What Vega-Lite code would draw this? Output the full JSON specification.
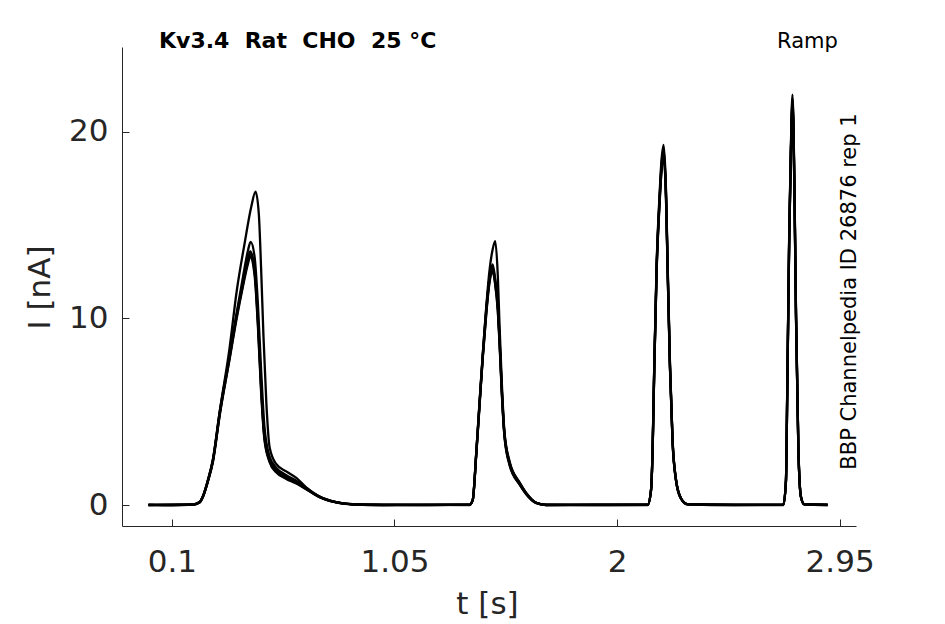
{
  "$schema": "https://vega.github.io/schema/vega-lite/v6.json",
  "autosize": {"type": "none"},
  "padding": {"left": 122, "top": 47, "right": 89, "bottom": 98},
  "width": 734,
  "height": 479,
  "background": "white",
  "config": {"view": {"stroke": null}},
  "title": {
    "text": "Kv3.4\u00a0\u00a0Rat\u00a0\u00a0CHO\u00a0\u00a025 °C",
    "anchor": "start",
    "frame": "group",
    "dx": 37,
    "dy": 40,
    "offset": 0,
    "baseline": "alphabetic",
    "font": "DejaVu Sans",
    "fontSize": 22,
    "fontWeight": "bold",
    "color": "black"
  },
  "data": {
    "values": [
      {"sweep": 1, "t": 0, "I": 0}, {"sweep": 1, "t": 0.1, "I": 0.02}, {"sweep": 1, "t": 0.19, "I": 0.03},
      {"sweep": 1, "t": 0.218, "I": 0.15}, {"sweep": 1, "t": 0.232, "I": 0.45}, {"sweep": 1, "t": 0.254, "I": 1.34},
      {"sweep": 1, "t": 0.275, "I": 2.4}, {"sweep": 1, "t": 0.304, "I": 5.0}, {"sweep": 1, "t": 0.346, "I": 8.4},
      {"sweep": 1, "t": 0.377, "I": 11.5}, {"sweep": 1, "t": 0.41, "I": 14.0}, {"sweep": 1, "t": 0.439, "I": 16.0},
      {"sweep": 1, "t": 0.457, "I": 16.8}, {"sweep": 1, "t": 0.471, "I": 15.6}, {"sweep": 1, "t": 0.481, "I": 12.6},
      {"sweep": 1, "t": 0.491, "I": 9.0}, {"sweep": 1, "t": 0.503, "I": 5.5}, {"sweep": 1, "t": 0.517, "I": 3.1},
      {"sweep": 1, "t": 0.545, "I": 2.2}, {"sweep": 1, "t": 0.588, "I": 1.8}, {"sweep": 1, "t": 0.631, "I": 1.45},
      {"sweep": 1, "t": 0.673, "I": 0.95}, {"sweep": 1, "t": 0.73, "I": 0.45}, {"sweep": 1, "t": 0.801, "I": 0.15},
      {"sweep": 1, "t": 0.872, "I": 0.03}, {"sweep": 1, "t": 1.0, "I": 0.0}, {"sweep": 1, "t": 1.2, "I": 0.02},
      {"sweep": 1, "t": 1.37, "I": 0.02}, {"sweep": 1, "t": 1.384, "I": 0.27}, {"sweep": 1, "t": 1.399, "I": 2.77},
      {"sweep": 1, "t": 1.413, "I": 5.45}, {"sweep": 1, "t": 1.427, "I": 8.1}, {"sweep": 1, "t": 1.441, "I": 10.5},
      {"sweep": 1, "t": 1.455, "I": 12.5}, {"sweep": 1, "t": 1.469, "I": 13.7}, {"sweep": 1, "t": 1.48, "I": 14.15},
      {"sweep": 1, "t": 1.491, "I": 12.3}, {"sweep": 1, "t": 1.498, "I": 9.8}, {"sweep": 1, "t": 1.508, "I": 6.6},
      {"sweep": 1, "t": 1.519, "I": 4.0}, {"sweep": 1, "t": 1.541, "I": 2.35}, {"sweep": 1, "t": 1.584, "I": 1.2},
      {"sweep": 1, "t": 1.612, "I": 0.65}, {"sweep": 1, "t": 1.655, "I": 0.12}, {"sweep": 1, "t": 1.697, "I": 0.0},
      {"sweep": 1, "t": 1.9, "I": 0.02}, {"sweep": 1, "t": 2.131, "I": 0.02}, {"sweep": 1, "t": 2.145, "I": 0.8},
      {"sweep": 1, "t": 2.152, "I": 3.1}, {"sweep": 1, "t": 2.159, "I": 7.6}, {"sweep": 1, "t": 2.169, "I": 12.95},
      {"sweep": 1, "t": 2.181, "I": 16.5}, {"sweep": 1, "t": 2.19, "I": 18.5}, {"sweep": 1, "t": 2.199, "I": 19.3},
      {"sweep": 1, "t": 2.209, "I": 16.9}, {"sweep": 1, "t": 2.216, "I": 12.95}, {"sweep": 1, "t": 2.226, "I": 7.6},
      {"sweep": 1, "t": 2.237, "I": 3.5}, {"sweep": 1, "t": 2.252, "I": 1.34}, {"sweep": 1, "t": 2.273, "I": 0.36},
      {"sweep": 1, "t": 2.301, "I": 0.04}, {"sweep": 1, "t": 2.5, "I": 0.0}, {"sweep": 1, "t": 2.71, "I": 0.02},
      {"sweep": 1, "t": 2.721, "I": 1.34}, {"sweep": 1, "t": 2.727, "I": 6.7}, {"sweep": 1, "t": 2.735, "I": 14.7},
      {"sweep": 1, "t": 2.742, "I": 19.2}, {"sweep": 1, "t": 2.749, "I": 22.0}, {"sweep": 1, "t": 2.757, "I": 17.4},
      {"sweep": 1, "t": 2.764, "I": 10.3}, {"sweep": 1, "t": 2.774, "I": 3.1}, {"sweep": 1, "t": 2.785, "I": 0.45},
      {"sweep": 1, "t": 2.799, "I": 0.04}, {"sweep": 1, "t": 2.899, "I": 0.0},

      {"sweep": 2, "t": 0, "I": 0.01}, {"sweep": 2, "t": 0.1, "I": -0.02}, {"sweep": 2, "t": 0.19, "I": 0.02},
      {"sweep": 2, "t": 0.218, "I": 0.15}, {"sweep": 2, "t": 0.232, "I": 0.45}, {"sweep": 2, "t": 0.254, "I": 1.3},
      {"sweep": 2, "t": 0.275, "I": 2.4}, {"sweep": 2, "t": 0.304, "I": 4.9}, {"sweep": 2, "t": 0.346, "I": 8.0},
      {"sweep": 2, "t": 0.375, "I": 10.2}, {"sweep": 2, "t": 0.403, "I": 12.2}, {"sweep": 2, "t": 0.424, "I": 13.6},
      {"sweep": 2, "t": 0.436, "I": 14.1}, {"sweep": 2, "t": 0.453, "I": 13.3}, {"sweep": 2, "t": 0.467, "I": 10.8},
      {"sweep": 2, "t": 0.481, "I": 7.2}, {"sweep": 2, "t": 0.495, "I": 4.2}, {"sweep": 2, "t": 0.517, "I": 2.6},
      {"sweep": 2, "t": 0.545, "I": 2.0}, {"sweep": 2, "t": 0.588, "I": 1.6}, {"sweep": 2, "t": 0.631, "I": 1.3},
      {"sweep": 2, "t": 0.673, "I": 0.92}, {"sweep": 2, "t": 0.73, "I": 0.45}, {"sweep": 2, "t": 0.801, "I": 0.15},
      {"sweep": 2, "t": 0.872, "I": 0.03}, {"sweep": 2, "t": 1.0, "I": 0.01}, {"sweep": 2, "t": 1.2, "I": -0.01},
      {"sweep": 2, "t": 1.37, "I": 0.01}, {"sweep": 2, "t": 1.384, "I": 0.27}, {"sweep": 2, "t": 1.399, "I": 2.75},
      {"sweep": 2, "t": 1.413, "I": 5.4}, {"sweep": 2, "t": 1.427, "I": 8.0}, {"sweep": 2, "t": 1.441, "I": 10.3},
      {"sweep": 2, "t": 1.455, "I": 12.1}, {"sweep": 2, "t": 1.469, "I": 12.9}, {"sweep": 2, "t": 1.48, "I": 12.1},
      {"sweep": 2, "t": 1.491, "I": 10.8}, {"sweep": 2, "t": 1.498, "I": 9.1}, {"sweep": 2, "t": 1.508, "I": 6.3},
      {"sweep": 2, "t": 1.519, "I": 3.9}, {"sweep": 2, "t": 1.541, "I": 2.3}, {"sweep": 2, "t": 1.584, "I": 1.2},
      {"sweep": 2, "t": 1.612, "I": 0.65}, {"sweep": 2, "t": 1.655, "I": 0.12}, {"sweep": 2, "t": 1.697, "I": 0.0},
      {"sweep": 2, "t": 1.9, "I": -0.01}, {"sweep": 2, "t": 2.131, "I": 0.01}, {"sweep": 2, "t": 2.145, "I": 0.8},
      {"sweep": 2, "t": 2.152, "I": 3.1}, {"sweep": 2, "t": 2.159, "I": 7.5}, {"sweep": 2, "t": 2.169, "I": 12.8},
      {"sweep": 2, "t": 2.181, "I": 16.3}, {"sweep": 2, "t": 2.19, "I": 18.3}, {"sweep": 2, "t": 2.199, "I": 19.1},
      {"sweep": 2, "t": 2.209, "I": 16.7}, {"sweep": 2, "t": 2.216, "I": 12.8}, {"sweep": 2, "t": 2.226, "I": 7.5},
      {"sweep": 2, "t": 2.237, "I": 3.5}, {"sweep": 2, "t": 2.252, "I": 1.34}, {"sweep": 2, "t": 2.273, "I": 0.36},
      {"sweep": 2, "t": 2.301, "I": 0.04}, {"sweep": 2, "t": 2.5, "I": 0.01}, {"sweep": 2, "t": 2.71, "I": 0.01},
      {"sweep": 2, "t": 2.721, "I": 1.3}, {"sweep": 2, "t": 2.727, "I": 6.6}, {"sweep": 2, "t": 2.735, "I": 14.5},
      {"sweep": 2, "t": 2.742, "I": 19.0}, {"sweep": 2, "t": 2.749, "I": 21.8}, {"sweep": 2, "t": 2.757, "I": 17.2},
      {"sweep": 2, "t": 2.764, "I": 10.2}, {"sweep": 2, "t": 2.774, "I": 3.1}, {"sweep": 2, "t": 2.785, "I": 0.45},
      {"sweep": 2, "t": 2.799, "I": 0.04}, {"sweep": 2, "t": 2.899, "I": 0.01},

      {"sweep": 3, "t": 0, "I": -0.01}, {"sweep": 3, "t": 0.1, "I": 0.01}, {"sweep": 3, "t": 0.19, "I": 0.03},
      {"sweep": 3, "t": 0.218, "I": 0.16}, {"sweep": 3, "t": 0.232, "I": 0.47}, {"sweep": 3, "t": 0.254, "I": 1.35},
      {"sweep": 3, "t": 0.275, "I": 2.45}, {"sweep": 3, "t": 0.304, "I": 5.0}, {"sweep": 3, "t": 0.346, "I": 8.0},
      {"sweep": 3, "t": 0.375, "I": 10.1}, {"sweep": 3, "t": 0.403, "I": 11.9}, {"sweep": 3, "t": 0.424, "I": 13.2},
      {"sweep": 3, "t": 0.434, "I": 13.6}, {"sweep": 3, "t": 0.453, "I": 12.7}, {"sweep": 3, "t": 0.467, "I": 10.0},
      {"sweep": 3, "t": 0.481, "I": 6.4}, {"sweep": 3, "t": 0.495, "I": 3.7}, {"sweep": 3, "t": 0.517, "I": 2.45},
      {"sweep": 3, "t": 0.545, "I": 1.9}, {"sweep": 3, "t": 0.588, "I": 1.55}, {"sweep": 3, "t": 0.631, "I": 1.25},
      {"sweep": 3, "t": 0.673, "I": 0.88}, {"sweep": 3, "t": 0.73, "I": 0.44}, {"sweep": 3, "t": 0.801, "I": 0.15},
      {"sweep": 3, "t": 0.872, "I": 0.04}, {"sweep": 3, "t": 1.0, "I": -0.01}, {"sweep": 3, "t": 1.2, "I": 0.01},
      {"sweep": 3, "t": 1.37, "I": 0.0}, {"sweep": 3, "t": 1.384, "I": 0.28}, {"sweep": 3, "t": 1.399, "I": 2.8},
      {"sweep": 3, "t": 1.413, "I": 5.5}, {"sweep": 3, "t": 1.427, "I": 8.1}, {"sweep": 3, "t": 1.441, "I": 10.4},
      {"sweep": 3, "t": 1.455, "I": 12.1}, {"sweep": 3, "t": 1.469, "I": 12.75}, {"sweep": 3, "t": 1.48, "I": 12.0},
      {"sweep": 3, "t": 1.491, "I": 10.7}, {"sweep": 3, "t": 1.498, "I": 9.0}, {"sweep": 3, "t": 1.508, "I": 6.2},
      {"sweep": 3, "t": 1.519, "I": 3.85}, {"sweep": 3, "t": 1.541, "I": 2.25}, {"sweep": 3, "t": 1.584, "I": 1.15},
      {"sweep": 3, "t": 1.612, "I": 0.62}, {"sweep": 3, "t": 1.655, "I": 0.12}, {"sweep": 3, "t": 1.697, "I": 0.01},
      {"sweep": 3, "t": 1.9, "I": 0.0}, {"sweep": 3, "t": 2.131, "I": 0.0}, {"sweep": 3, "t": 2.145, "I": 0.8},
      {"sweep": 3, "t": 2.152, "I": 3.0}, {"sweep": 3, "t": 2.159, "I": 7.4}, {"sweep": 3, "t": 2.169, "I": 12.7},
      {"sweep": 3, "t": 2.181, "I": 16.2}, {"sweep": 3, "t": 2.19, "I": 18.1}, {"sweep": 3, "t": 2.199, "I": 18.9},
      {"sweep": 3, "t": 2.209, "I": 16.6}, {"sweep": 3, "t": 2.216, "I": 12.7}, {"sweep": 3, "t": 2.226, "I": 7.4},
      {"sweep": 3, "t": 2.237, "I": 3.4}, {"sweep": 3, "t": 2.252, "I": 1.3}, {"sweep": 3, "t": 2.273, "I": 0.35},
      {"sweep": 3, "t": 2.301, "I": 0.04}, {"sweep": 3, "t": 2.5, "I": -0.01}, {"sweep": 3, "t": 2.71, "I": 0.0},
      {"sweep": 3, "t": 2.721, "I": 1.3}, {"sweep": 3, "t": 2.727, "I": 6.5}, {"sweep": 3, "t": 2.735, "I": 14.4},
      {"sweep": 3, "t": 2.742, "I": 18.9}, {"sweep": 3, "t": 2.749, "I": 21.6}, {"sweep": 3, "t": 2.757, "I": 17.1},
      {"sweep": 3, "t": 2.764, "I": 10.1}, {"sweep": 3, "t": 2.774, "I": 3.0}, {"sweep": 3, "t": 2.785, "I": 0.44},
      {"sweep": 3, "t": 2.799, "I": 0.04}, {"sweep": 3, "t": 2.899, "I": 0.0},

      {"sweep": 4, "t": 0, "I": 0.02}, {"sweep": 4, "t": 0.1, "I": 0.0}, {"sweep": 4, "t": 0.19, "I": 0.02},
      {"sweep": 4, "t": 0.218, "I": 0.14}, {"sweep": 4, "t": 0.232, "I": 0.43}, {"sweep": 4, "t": 0.254, "I": 1.3},
      {"sweep": 4, "t": 0.275, "I": 2.35}, {"sweep": 4, "t": 0.304, "I": 4.85}, {"sweep": 4, "t": 0.346, "I": 7.85},
      {"sweep": 4, "t": 0.375, "I": 10.0}, {"sweep": 4, "t": 0.403, "I": 11.8}, {"sweep": 4, "t": 0.424, "I": 13.05},
      {"sweep": 4, "t": 0.434, "I": 13.45}, {"sweep": 4, "t": 0.453, "I": 12.5}, {"sweep": 4, "t": 0.467, "I": 9.8},
      {"sweep": 4, "t": 0.481, "I": 6.2}, {"sweep": 4, "t": 0.495, "I": 3.6}, {"sweep": 4, "t": 0.517, "I": 2.35},
      {"sweep": 4, "t": 0.545, "I": 1.8}, {"sweep": 4, "t": 0.588, "I": 1.45}, {"sweep": 4, "t": 0.631, "I": 1.2},
      {"sweep": 4, "t": 0.673, "I": 0.86}, {"sweep": 4, "t": 0.73, "I": 0.43}, {"sweep": 4, "t": 0.801, "I": 0.14},
      {"sweep": 4, "t": 0.872, "I": 0.03}, {"sweep": 4, "t": 1.0, "I": 0.02}, {"sweep": 4, "t": 1.2, "I": 0.0},
      {"sweep": 4, "t": 1.37, "I": 0.02}, {"sweep": 4, "t": 1.384, "I": 0.26}, {"sweep": 4, "t": 1.399, "I": 2.7},
      {"sweep": 4, "t": 1.413, "I": 5.35}, {"sweep": 4, "t": 1.427, "I": 7.95}, {"sweep": 4, "t": 1.441, "I": 10.2},
      {"sweep": 4, "t": 1.455, "I": 11.95}, {"sweep": 4, "t": 1.469, "I": 12.6}, {"sweep": 4, "t": 1.48, "I": 11.9},
      {"sweep": 4, "t": 1.491, "I": 10.5}, {"sweep": 4, "t": 1.498, "I": 8.9}, {"sweep": 4, "t": 1.508, "I": 6.1},
      {"sweep": 4, "t": 1.519, "I": 3.8}, {"sweep": 4, "t": 1.541, "I": 2.2}, {"sweep": 4, "t": 1.584, "I": 1.1},
      {"sweep": 4, "t": 1.612, "I": 0.6}, {"sweep": 4, "t": 1.655, "I": 0.11}, {"sweep": 4, "t": 1.697, "I": 0.02},
      {"sweep": 4, "t": 1.9, "I": 0.01}, {"sweep": 4, "t": 2.131, "I": 0.02}, {"sweep": 4, "t": 2.145, "I": 0.78},
      {"sweep": 4, "t": 2.152, "I": 3.0}, {"sweep": 4, "t": 2.159, "I": 7.35}, {"sweep": 4, "t": 2.169, "I": 12.6},
      {"sweep": 4, "t": 2.181, "I": 16.1}, {"sweep": 4, "t": 2.19, "I": 18.0}, {"sweep": 4, "t": 2.199, "I": 18.8},
      {"sweep": 4, "t": 2.209, "I": 16.5}, {"sweep": 4, "t": 2.216, "I": 12.6}, {"sweep": 4, "t": 2.226, "I": 7.35},
      {"sweep": 4, "t": 2.237, "I": 3.4}, {"sweep": 4, "t": 2.252, "I": 1.3}, {"sweep": 4, "t": 2.273, "I": 0.34},
      {"sweep": 4, "t": 2.301, "I": 0.05}, {"sweep": 4, "t": 2.5, "I": 0.02}, {"sweep": 4, "t": 2.71, "I": 0.02},
      {"sweep": 4, "t": 2.721, "I": 1.28}, {"sweep": 4, "t": 2.727, "I": 6.45}, {"sweep": 4, "t": 2.735, "I": 14.3},
      {"sweep": 4, "t": 2.742, "I": 18.8}, {"sweep": 4, "t": 2.749, "I": 21.5}, {"sweep": 4, "t": 2.757, "I": 17.0},
      {"sweep": 4, "t": 2.764, "I": 10.0}, {"sweep": 4, "t": 2.774, "I": 3.0}, {"sweep": 4, "t": 2.785, "I": 0.43},
      {"sweep": 4, "t": 2.799, "I": 0.05}, {"sweep": 4, "t": 2.899, "I": 0.02},

      {"sweep": 5, "t": 0, "I": 0.0}, {"sweep": 5, "t": 0.1, "I": 0.01}, {"sweep": 5, "t": 0.19, "I": 0.01},
      {"sweep": 5, "t": 0.218, "I": 0.13}, {"sweep": 5, "t": 0.232, "I": 0.42}, {"sweep": 5, "t": 0.254, "I": 1.28},
      {"sweep": 5, "t": 0.275, "I": 2.3}, {"sweep": 5, "t": 0.304, "I": 4.8}, {"sweep": 5, "t": 0.346, "I": 7.8},
      {"sweep": 5, "t": 0.375, "I": 9.9}, {"sweep": 5, "t": 0.403, "I": 11.7}, {"sweep": 5, "t": 0.424, "I": 12.9},
      {"sweep": 5, "t": 0.434, "I": 13.3}, {"sweep": 5, "t": 0.453, "I": 12.3}, {"sweep": 5, "t": 0.467, "I": 9.6},
      {"sweep": 5, "t": 0.481, "I": 6.0}, {"sweep": 5, "t": 0.495, "I": 3.5}, {"sweep": 5, "t": 0.517, "I": 2.3},
      {"sweep": 5, "t": 0.545, "I": 1.75}, {"sweep": 5, "t": 0.588, "I": 1.4}, {"sweep": 5, "t": 0.631, "I": 1.15},
      {"sweep": 5, "t": 0.673, "I": 0.85}, {"sweep": 5, "t": 0.73, "I": 0.42}, {"sweep": 5, "t": 0.801, "I": 0.14},
      {"sweep": 5, "t": 0.872, "I": 0.04}, {"sweep": 5, "t": 1.0, "I": 0.0}, {"sweep": 5, "t": 1.2, "I": 0.01},
      {"sweep": 5, "t": 1.37, "I": 0.01}, {"sweep": 5, "t": 1.384, "I": 0.25}, {"sweep": 5, "t": 1.399, "I": 2.65},
      {"sweep": 5, "t": 1.413, "I": 5.3}, {"sweep": 5, "t": 1.427, "I": 7.9}, {"sweep": 5, "t": 1.441, "I": 10.1},
      {"sweep": 5, "t": 1.455, "I": 11.85}, {"sweep": 5, "t": 1.469, "I": 12.5}, {"sweep": 5, "t": 1.48, "I": 11.8},
      {"sweep": 5, "t": 1.491, "I": 10.4}, {"sweep": 5, "t": 1.498, "I": 8.8}, {"sweep": 5, "t": 1.508, "I": 6.0},
      {"sweep": 5, "t": 1.519, "I": 3.75}, {"sweep": 5, "t": 1.541, "I": 2.15}, {"sweep": 5, "t": 1.584, "I": 1.1},
      {"sweep": 5, "t": 1.612, "I": 0.58}, {"sweep": 5, "t": 1.655, "I": 0.1}, {"sweep": 5, "t": 1.697, "I": 0.0},
      {"sweep": 5, "t": 1.9, "I": 0.02}, {"sweep": 5, "t": 2.131, "I": 0.01}, {"sweep": 5, "t": 2.145, "I": 0.76},
      {"sweep": 5, "t": 2.152, "I": 2.95}, {"sweep": 5, "t": 2.159, "I": 7.3}, {"sweep": 5, "t": 2.169, "I": 12.5},
      {"sweep": 5, "t": 2.181, "I": 16.0}, {"sweep": 5, "t": 2.19, "I": 17.9}, {"sweep": 5, "t": 2.199, "I": 18.7},
      {"sweep": 5, "t": 2.209, "I": 16.4}, {"sweep": 5, "t": 2.216, "I": 12.5}, {"sweep": 5, "t": 2.226, "I": 7.3},
      {"sweep": 5, "t": 2.237, "I": 3.35}, {"sweep": 5, "t": 2.252, "I": 1.28}, {"sweep": 5, "t": 2.273, "I": 0.34},
      {"sweep": 5, "t": 2.301, "I": 0.03}, {"sweep": 5, "t": 2.5, "I": 0.01}, {"sweep": 5, "t": 2.71, "I": 0.01},
      {"sweep": 5, "t": 2.721, "I": 1.25}, {"sweep": 5, "t": 2.727, "I": 6.4}, {"sweep": 5, "t": 2.735, "I": 14.2},
      {"sweep": 5, "t": 2.742, "I": 18.7}, {"sweep": 5, "t": 2.749, "I": 21.4}, {"sweep": 5, "t": 2.757, "I": 16.9},
      {"sweep": 5, "t": 2.764, "I": 9.9}, {"sweep": 5, "t": 2.774, "I": 2.95}, {"sweep": 5, "t": 2.785, "I": 0.42},
      {"sweep": 5, "t": 2.799, "I": 0.03}, {"sweep": 5, "t": 2.899, "I": 0.01}
    ]
  },
  "layer": [
    {
      "mark": {"type": "line", "color": "black", "strokeWidth": 2.3, "interpolate": "monotone", "clip": true},
      "encoding": {
        "x": {
          "field": "t",
          "type": "quantitative",
          "scale": {"domain": [-0.113, 3.02], "nice": false, "zero": false},
          "axis": {
            "orient": "bottom",
            "values": [0.1, 1.05, 2, 2.95],
            "format": ".3~g",
            "grid": false,
            "domainColor": "#262626",
            "domainWidth": 1,
            "tickColor": "#262626",
            "tickWidth": 1,
            "tickSize": -7,
            "labelFont": "DejaVu Sans",
            "labelFontSize": 31,
            "labelColor": "#262626",
            "labelPadding": 28,
            "labelBaseline": "top",
            "labelFlush": false,
            "labelOverlap": false,
            "labelBound": false,
            "title": "t [s]",
            "titleFont": "DejaVu Sans",
            "titleFontSize": 31,
            "titleFontWeight": "normal",
            "titleColor": "#262626",
            "titleX": 365,
            "titleY": 87,
            "titleAlign": "center",
            "titleBaseline": "alphabetic"
          }
        },
        "y": {
          "field": "I",
          "type": "quantitative",
          "scale": {"domain": [-1.125, 24.55], "nice": false, "zero": false},
          "axis": {
            "orient": "left",
            "values": [0, 10, 20],
            "grid": false,
            "domainColor": "#262626",
            "domainWidth": 1,
            "tickColor": "#262626",
            "tickWidth": 1,
            "tickSize": -7,
            "labelFont": "DejaVu Sans",
            "labelFontSize": 31,
            "labelColor": "#262626",
            "labelPadding": 21,
            "labelAlign": "right",
            "labelBaseline": "middle",
            "labelOverlap": false,
            "labelBound": false,
            "title": "I [nA]",
            "titleFont": "DejaVu Sans",
            "titleFontSize": 31,
            "titleFontWeight": "normal",
            "titleColor": "#262626",
            "titleAngle": 270,
            "titleX": -73,
            "titleY": 240,
            "titleAlign": "center",
            "titleBaseline": "alphabetic"
          }
        },
        "detail": {"field": "sweep", "type": "nominal"}
      }
    },
    {
      "mark": {"type": "line", "strokeOpacity": 0},
      "encoding": {
        "x": {
          "field": "t",
          "type": "quantitative",
          "axis": {
            "orient": "top",
            "domain": false,
            "ticks": false,
            "labels": false,
            "grid": false,
            "title": "Ramp",
            "titleFont": "DejaVu Sans",
            "titleFontSize": 21,
            "titleFontWeight": "normal",
            "titleColor": "black",
            "titleX": 685,
            "titleY": 0,
            "titleAlign": "center",
            "titleBaseline": "alphabetic",
            "titleAngle": 0
          }
        },
        "y": {
          "field": "I",
          "type": "quantitative",
          "axis": {
            "orient": "right",
            "domain": false,
            "ticks": false,
            "labels": false,
            "grid": false,
            "title": "BBP Channelpedia ID 26876 rep 1",
            "titleFont": "DejaVu Sans",
            "titleFontSize": 21,
            "titleFontWeight": "normal",
            "titleColor": "black",
            "titleAngle": 270,
            "titleX": -1,
            "titleY": 244,
            "titleAlign": "center",
            "titleBaseline": "alphabetic"
          }
        },
        "detail": {"field": "sweep", "type": "nominal"}
      }
    }
  ],
  "resolve": {"axis": {"x": "independent", "y": "independent"}}
}
